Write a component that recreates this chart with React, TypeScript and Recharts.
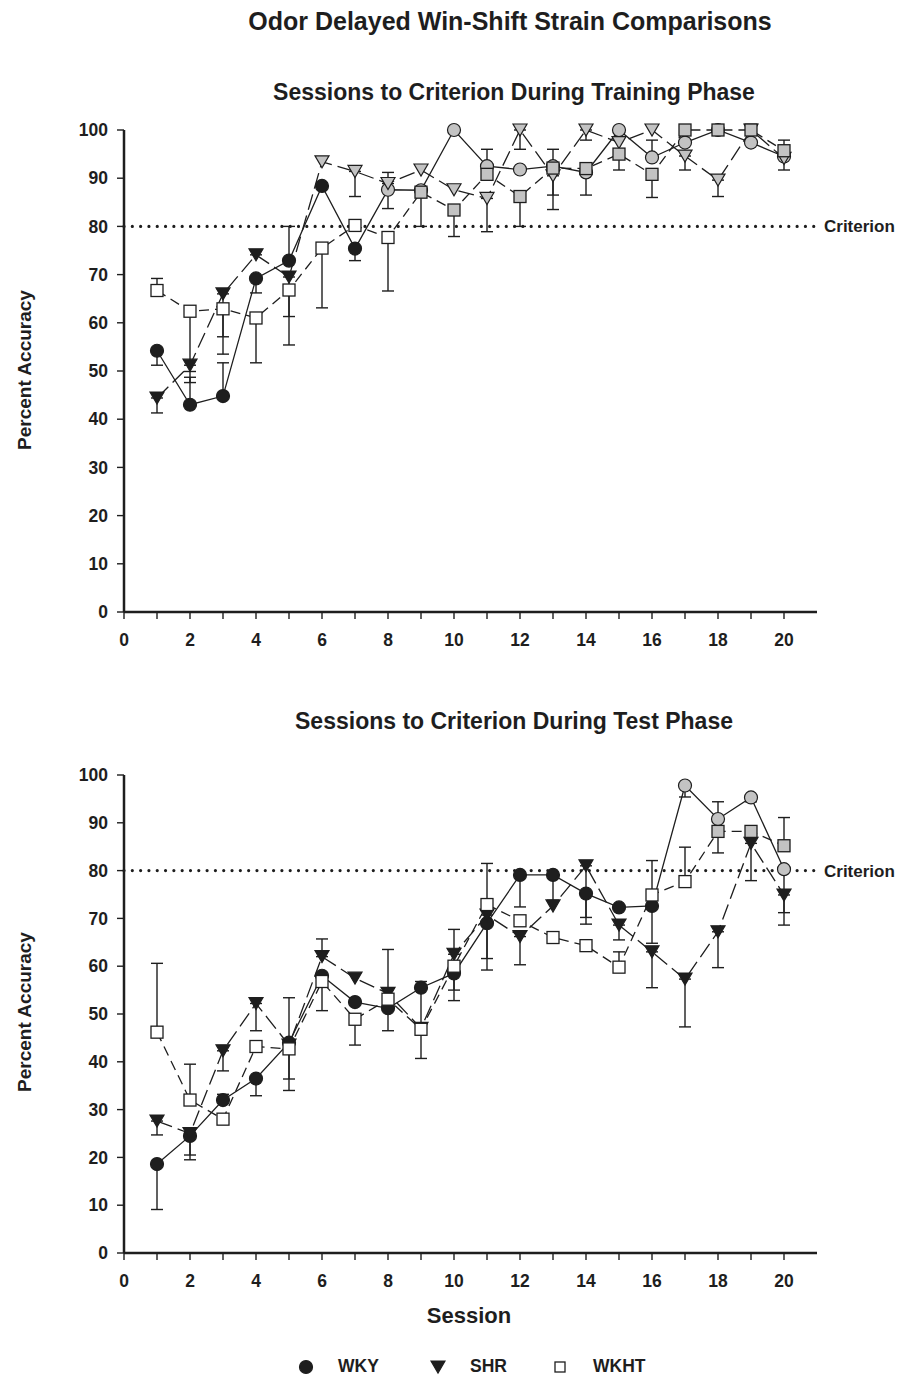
import React from 'react';
import { ComposedChart, Line, XAxis, YAxis, ErrorBar, ReferenceLine } from 'recharts';

const sessions = [1, 2, 3, 4, 5, 6, 7, 8, 9, 10, 11, 12, 13, 14, 15, 16, 17, 18, 19, 20];
const xTicks = [0, 1, 2, 3, 4, 5, 6, 7, 8, 9, 10, 11, 12, 13, 14, 15, 16, 17, 18, 19, 20];
const yTicks = [0, 10, 20, 30, 40, 50, 60, 70, 80, 90, 100];
const criterion = 80;

// training phase (error: + drawn upward, - drawn downward, null = hidden)
const trainWKY = [54.2, 43.0, 44.8, 69.2, 72.9, 88.4, 75.4, 87.6, 87.5, 100, 92.5, 91.8, 92.5, 91.2, 100, 94.3, 97.4, 100, 97.4, 94.5];
const trainWKYErr = [-3, 5.7, 6.9, -3, 7.1, null, -2.5, 3.6, null, null, null, null, 3.5, -4.7, null, 3.6, null, null, null, null];
const trainSHR = [44.4, 51.2, 66.0, 74.1, 69.5, 93.4, 91.4, 88.9, 91.7, 87.6, 85.8, 100, 90.5, 100, 97.4, 100, 94.6, 89.6, 100, 94.1];
const trainSHRErr = [-3.1, -3.6, -12.5, 0.9, -8.2, null, -5.2, -5.2, null, null, -6.9, -4, -4, -2.1, null, null, -2.9, -3.4, null, -2.4];
const trainWKHT = [66.7, 62.4, 62.9, 61.0, 66.8, 75.5, 80.2, 77.7, 87.1, 83.4, 90.8, 86.2, 92.1, 92.0, 95.0, 90.8, 100, 100, 100, 95.7];
const trainWKHTErr = [2.5, -12.5, -5.8, -9.3, -11.4, -12.4, null, -11.1, -7.1, -5.5, 5.2, -6.2, -8.6, null, -3.3, -4.8, null, null, null, 2.2];
// first session drawn grey (criterion reached)
const trainGreyFrom = { wky: 8, shr: 6, wkht: 9 };

// test phase
const testWKY = [18.6, 24.5, 32.0, 36.5, 44.0, 58.0, 52.5, 51.2, 55.5, 58.5, 69.0, 79.1, 79.1, 75.2, 72.3, 72.6, 97.8, 90.8, 95.3, 80.3];
const testWKYErr = [-9.5, -4, 1.2, -3.6, 9.4, null, null, -4.7, null, -3.5, -7.4, -6.7, -5.3, -5, null, -7.8, -2.4, 3.6, -0.9, -11.7];
const testSHR = [27.6, 25.0, 42.3, 52.2, 43.5, 62.0, 57.5, 54.3, 47.0, 62.5, 70.7, 66.2, 72.6, 81.0, 68.6, 63.0, 57.3, 67.2, 85.7, 74.9];
const testSHRErr = [-2.9, -5.5, -4.2, -5.7, -7.1, 3.7, null, null, 9.8, 5.2, -11.5, -5.9, null, -12.2, -3.1, -7.5, -10, -7.5, -7.8, -3.7];
const testWKHT = [46.2, 32.0, 28.0, 43.2, 42.7, 56.8, 48.9, 53.1, 46.8, 60.0, 72.9, 69.5, 66.0, 64.3, 59.8, 74.9, 77.7, 88.2, 88.2, 85.2];
const testWKHTErr = [14.4, 7.5, null, null, -8.7, -6.1, -5.4, 10.4, -6.1, -7.2, 8.6, null, null, null, 3.2, 7.2, 7.2, -4.5, null, 5.9];
const testGreyFrom = { wky: 17, shr: 99, wkht: 18 };

const INK = '#1e1e1e';
const GREY = '#c3c3c3';
const FONT = '"Liberation Sans", Arial, Helvetica, sans-serif';

const toErr = (e: number | null) => (e == null ? null : e > 0 ? [0, e] : [-e, 0]);

const buildRows = (wky: number[], wkyE: (number | null)[], shr: number[], shrE: (number | null)[], wkht: number[], wkhtE: (number | null)[]) =>
  sessions.map((s, i) => ({
    session: s,
    wky: wky[i],
    wkyErr: toErr(wkyE[i]),
    shr: shr[i],
    shrErr: toErr(shrE[i]),
    wkht: wkht[i],
    wkhtErr: toErr(wkhtE[i]),
  }));

const trainRows = buildRows(trainWKY, trainWKYErr, trainSHR, trainSHRErr, trainWKHT, trainWKHTErr);
const testRows = buildRows(testWKY, testWKYErr, testSHR, testSHRErr, testWKHT, testWKHTErr);

type Shape = 'circle' | 'triangle' | 'square';

const Marker = ({ shape, cx, cy, fill, size = 12 }: { shape: Shape; cx: number; cy: number; fill: string; size?: number }) => {
  const h = size / 2;
  if (shape === 'circle') return <circle cx={cx} cy={cy} r={h + 0.5} fill={fill} stroke={INK} strokeWidth={1.2} />;
  if (shape === 'triangle')
    return <polygon points={`${cx - h - 1},${cy - h} ${cx + h + 1},${cy - h} ${cx},${cy + h}`} fill={fill} stroke={INK} strokeWidth={1.2} />;
  return <rect x={cx - h} y={cy - h} width={size} height={size} fill={fill} stroke={INK} strokeWidth={1.3} />;
};

const makeDot = (shape: Shape, fill: string, greyFrom: number) => (props: any) => {
  const { cx, cy, payload, index } = props;
  if (cx == null || cy == null) return <g key={index} />;
  return (
    <g key={index}>
      <Marker shape={shape} cx={cx} cy={cy} fill={payload.session >= greyFrom ? GREY : fill} />
    </g>
  );
};

const tickStyle = { fill: INK, fontSize: 17.5, fontWeight: 700, fontFamily: FONT };

const Panel = ({ rows, grey, top, height, marginTop, marginBottom }: any) => (
  <div style={{ position: 'absolute', left: 0, top }}>
    <ComposedChart width={904} height={height} data={rows} margin={{ top: marginTop, right: 87, bottom: marginBottom, left: 0 }}>
      <XAxis
        type="number"
        dataKey="session"
        domain={[0, 21]}
        ticks={xTicks}
        interval={0}
        tickFormatter={(v: number) => (v % 2 === 0 ? String(v) : '')}
        tick={tickStyle}
        tickSize={7}
        tickMargin={15}
        height={40}
        axisLine={{ stroke: INK, strokeWidth: 2.5 }}
        tickLine={{ stroke: INK, strokeWidth: 1.4 }}
      />
      <YAxis
        type="number"
        domain={[0, 100]}
        ticks={yTicks}
        interval={0}
        tick={tickStyle}
        tickSize={7}
        tickMargin={9}
        width={124}
        axisLine={{ stroke: INK, strokeWidth: 2.5 }}
        tickLine={{ stroke: INK, strokeWidth: 1.4 }}
      />
      <ReferenceLine
        y={criterion}
        stroke={INK}
        strokeWidth={3.2}
        strokeDasharray="0.01 8.3"
        strokeLinecap="round"
        label={{ value: 'Criterion', position: 'right', offset: 7, fill: INK, fontSize: 17, fontWeight: 700, fontFamily: FONT }}
      />
      <Line
        dataKey="wky"
        stroke={INK}
        strokeWidth={1.3}
        dot={makeDot('circle', INK, grey.wky)}
        activeDot={false}
        isAnimationActive={false}
      >
        <ErrorBar dataKey="wkyErr" width={6} stroke={INK} strokeWidth={1.4} direction="y" />
      </Line>
      <Line
        dataKey="shr"
        stroke={INK}
        strokeWidth={1.3}
        strokeDasharray="16 6"
        dot={makeDot('triangle', INK, grey.shr)}
        activeDot={false}
        isAnimationActive={false}
      >
        <ErrorBar dataKey="shrErr" width={6} stroke={INK} strokeWidth={1.4} direction="y" />
      </Line>
      <Line
        dataKey="wkht"
        stroke={INK}
        strokeWidth={1.3}
        strokeDasharray="10 6"
        dot={makeDot('square', '#ffffff', grey.wkht)}
        activeDot={false}
        isAnimationActive={false}
      >
        <ErrorBar dataKey="wkhtErr" width={6} stroke={INK} strokeWidth={1.4} direction="y" />
      </Line>
    </ComposedChart>
  </div>
);

const Text = ({ x, y, size, rotate, children }: any) => (
  <div
    style={{
      position: 'absolute',
      left: x,
      top: y,
      transform: `translate(-50%, -50%)${rotate ? ' rotate(-90deg)' : ''}`,
      fontSize: size,
      fontWeight: 700,
      lineHeight: 1,
      whiteSpace: 'nowrap',
      color: INK,
    }}
  >
    {children}
  </div>
);

const legendItems: { label: string; shape: Shape; fill: string; size: number; x: number; textX: number }[] = [
  { label: 'WKY', shape: 'circle', fill: INK, size: 12, x: 306, textX: 338 },
  { label: 'SHR', shape: 'triangle', fill: INK, size: 12, x: 438, textX: 470 },
  { label: 'WKHT', shape: 'square', fill: '#ffffff', size: 10, x: 560, textX: 593 },
];

export default function App() {
  return (
    <div style={{ position: 'absolute', left: 0, top: 0, width: 904, height: 1387, background: '#fff', fontFamily: FONT }}>
      <Text x={510} y={21} size={25}>Odor Delayed Win-Shift Strain Comparisons</Text>
      <Text x={514} y={92} size={23}>Sessions to Criterion During Training Phase</Text>
      <Text x={514} y={721} size={23}>Sessions to Criterion During Test Phase</Text>
      <Text x={24} y={370} size={19} rotate>Percent Accuracy</Text>
      <Text x={24} y={1012} size={19} rotate>Percent Accuracy</Text>
      <Text x={469} y={1316} size={22}>Session</Text>

      <Panel rows={trainRows} grey={trainGreyFrom} top={0} height={680} marginTop={130} marginBottom={28} />
      <Panel rows={testRows} grey={testGreyFrom} top={680} height={640} marginTop={95} marginBottom={27} />

      {legendItems.map((it) => (
        <React.Fragment key={it.label}>
          <svg style={{ position: 'absolute', left: it.x - 8, top: 1367 - 8 }} width={16} height={16}>
            <Marker shape={it.shape} cx={8} cy={8} fill={it.fill} size={it.size} />
          </svg>
          <div style={{ position: 'absolute', left: it.textX, top: 1367, transform: 'translateY(-50%)', fontSize: 17.5, fontWeight: 700, lineHeight: 1, color: INK }}>
            {it.label}
          </div>
        </React.Fragment>
      ))}
    </div>
  );
}
